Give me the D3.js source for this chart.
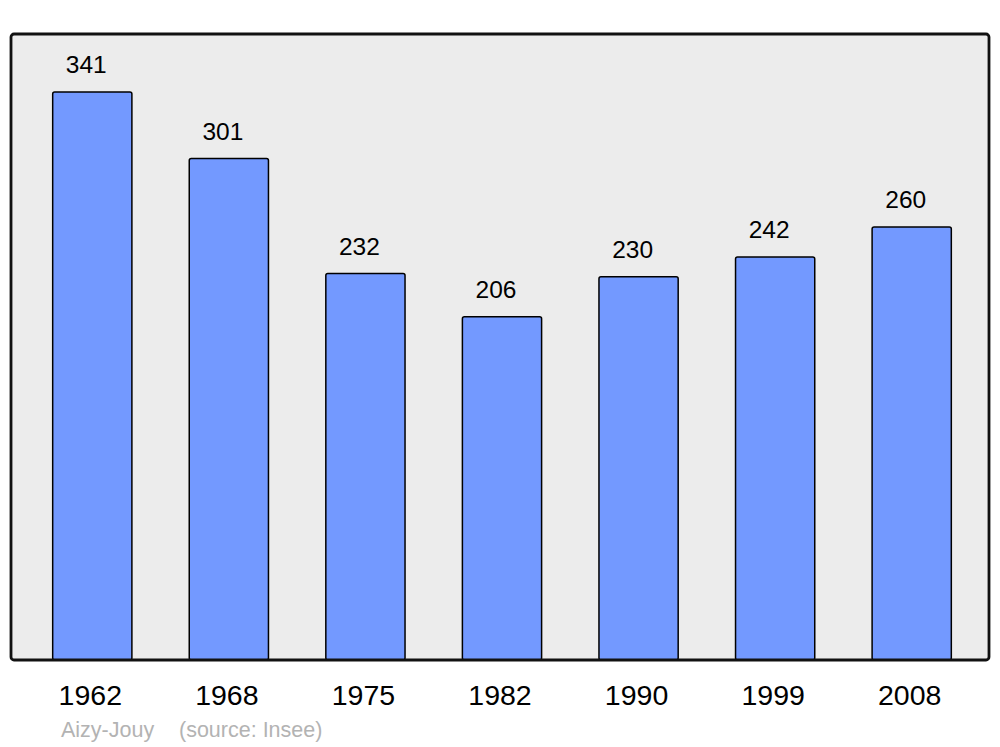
<!DOCTYPE html>
<html>
<head>
<meta charset="utf-8">
<script src="https://cdn.jsdelivr.net/npm/d3@7"></script>
<style>
  body { margin: 0; background: #fff; }
  text { font-family: "Liberation Sans", Arial, sans-serif; }
</style>
</head>
<body>
<div id="chart"></div>
<script>
// data
var years = ["1962", "1968", "1975", "1982", "1990", "1999", "2008"];
var population = [341, 301, 232, 206, 230, 242, 260];
var placeName = "Aizy-Jouy";
var sourceText = "(source: Insee)";

var svgWidth = 1000;
var svgHeight = 747;

// plot panel box
var panel = {left: 11, top: 34, right: 989, bottom: 660};

var svg = d3.select("#chart")
	.append("svg")
	.attr("width", svgWidth)
	.attr("height", svgHeight);

var data = years.map((y, i) => ({year: y, value: population[i]}));

var xScale = d3.scaleBand()
	.domain(years)
	.range([24, 980])
	.paddingInner(0.42)
	.paddingOuter(0.21);

var yScale = d3.scaleLinear()
	.domain([0, 375.8])
	.range([panel.bottom, panel.top]);

// background panel
svg.append("rect")
	.attr("x", panel.left)
	.attr("y", panel.top)
	.attr("width", panel.right - panel.left)
	.attr("height", panel.bottom - panel.top)
	.attr("rx", 3)
	.attr("fill", "#ececec");

// bars
svg.selectAll("rect.bar")
	.data(data)
	.enter()
	.append("rect")
	.classed("bar", true)
	.attr("x", d => xScale(d.year))
	.attr("y", d => yScale(d.value))
	.attr("width", xScale.bandwidth())
	.attr("height", d => yScale(0) - yScale(d.value))
	.attr("rx", 2)
	.attr("fill", "#7399ff")
	.attr("stroke", "#000")
	.attr("stroke-width", 1.5);

// panel border on top
svg.append("rect")
	.attr("x", panel.left)
	.attr("y", panel.top)
	.attr("width", panel.right - panel.left)
	.attr("height", panel.bottom - panel.top)
	.attr("rx", 3)
	.attr("fill", "none")
	.attr("stroke", "#111")
	.attr("stroke-width", 2.8);

// value labels
svg.selectAll("text.val")
	.data(data)
	.enter()
	.append("text")
	.classed("val", true)
	.attr("x", d => xScale(d.year) + xScale.bandwidth() / 2 - 6)
	.attr("y", d => yScale(d.value) - 19)
	.attr("text-anchor", "middle")
	.attr("font-size", 24.5)
	.attr("fill", "#000")
	.text(d => d.value);

// year labels
svg.selectAll("text.year")
	.data(data)
	.enter()
	.append("text")
	.classed("year", true)
	.attr("x", d => xScale(d.year) + xScale.bandwidth() / 2 - 2)
	.attr("y", 705)
	.attr("text-anchor", "middle")
	.attr("font-size", 28.5)
	.attr("fill", "#000")
	.text(d => d.year);

// caption
svg.append("text")
	.attr("x", 61)
	.attr("y", 737)
	.attr("font-size", 21.5)
	.attr("fill", "#b3b3b3")
	.text(placeName);

svg.append("text")
	.attr("x", 179)
	.attr("y", 737)
	.attr("font-size", 21.5)
	.attr("fill", "#b3b3b3")
	.text(sourceText);
</script>
</body>
</html>
